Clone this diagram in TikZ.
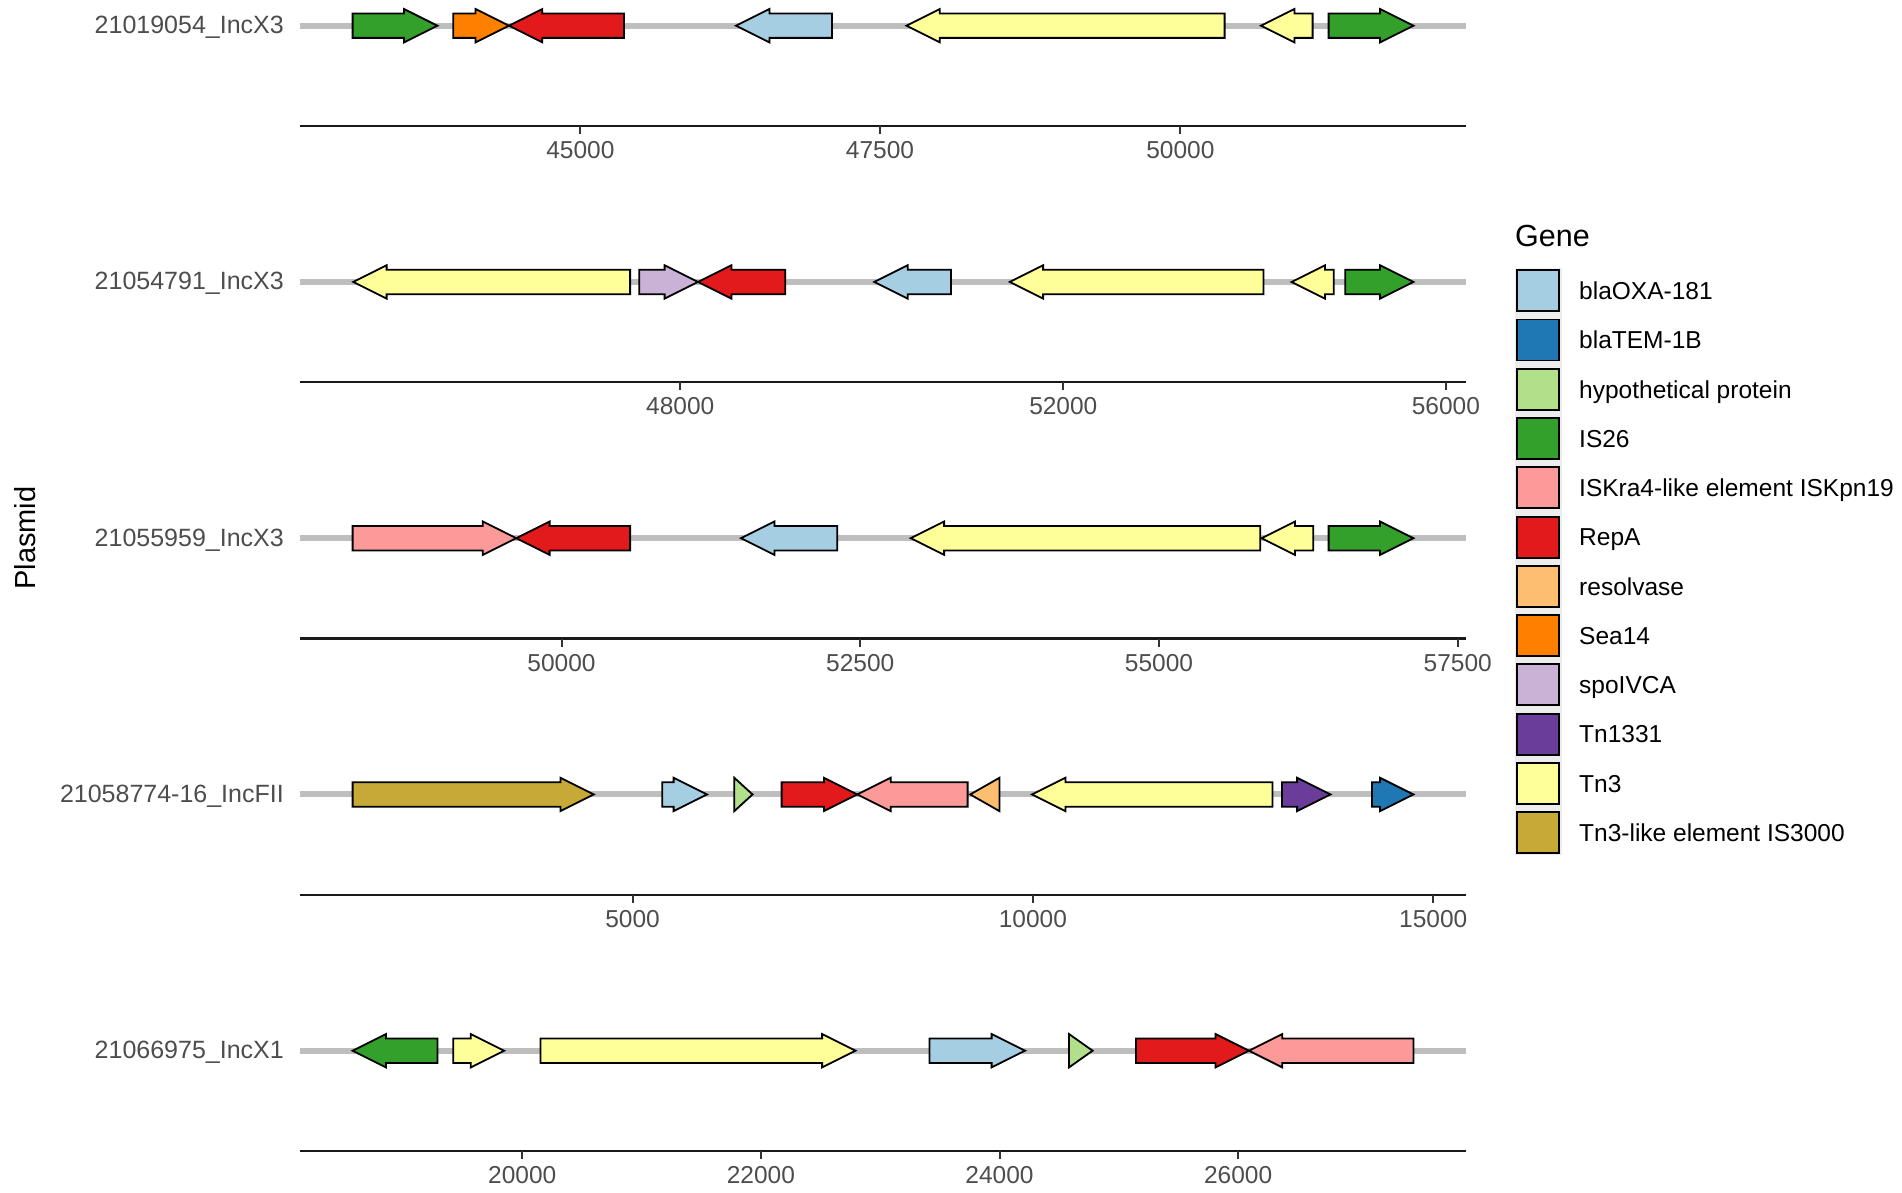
\documentclass[tikz,border=0pt]{standalone}
\usepackage{fontspec}
\setmainfont{Liberation Sans}
\definecolor{cOXA}{HTML}{A6CEE3}
\definecolor{cTEM}{HTML}{1F78B4}
\definecolor{cHyp}{HTML}{B2DF8A}
\definecolor{cIS}{HTML}{33A02C}
\definecolor{cISK}{HTML}{FB9A99}
\definecolor{cRep}{HTML}{E31A1C}
\definecolor{cRes}{HTML}{FDBF6F}
\definecolor{cSea}{HTML}{FF7F00}
\definecolor{cSpo}{HTML}{CAB2D6}
\definecolor{cTn1}{HTML}{6A3D9A}
\definecolor{cTn3}{HTML}{FFFF99}
\definecolor{cIS3}{HTML}{C7A937}
\definecolor{trackgrey}{HTML}{BEBEBE}
\definecolor{grey30}{HTML}{4D4D4D}
\definecolor{keybg}{HTML}{EDEDED}
\tikzset{
  genebox/.style={draw=black, line width=1.8pt, line join=miter},
  trackline/.style={draw=trackgrey, line width=6pt},
  axisline/.style={draw=black!90, line width=2.4pt},
  tickmark/.style={draw=black!80, line width=2pt},
  ticklab/.style={text=grey30, font=\fontsize{24.5}{28}\selectfont, inner sep=0pt, anchor=center},
  rowlab/.style={text=grey30, font=\fontsize{25}{29}\selectfont, inner sep=0pt, anchor=base east},
  legkey/.style={draw=black, line width=1.8pt},
  leglab/.style={text=black, font=\fontsize{24.5}{28}\selectfont, inner sep=0pt, anchor=base west},
}
\newcommand\gfwd[4]{% y, x1, x2(tip), colour
  \pgfmathsetmacro\ghx{max(#2,#3-33.4)}%
  \draw[genebox,fill=#4] (#2,#1-12.2) -- (\ghx,#1-12.2) -- (\ghx,#1-16.7) -- (#3,#1)
     -- (\ghx,#1+16.7) -- (\ghx,#1+12.2) -- (#2,#1+12.2) -- cycle;}
\newcommand\grev[4]{% y, x1(tip), x2, colour
  \pgfmathsetmacro\ghx{min(#3,#2+33.4)}%
  \draw[genebox,fill=#4] (#3,#1-12.2) -- (\ghx,#1-12.2) -- (\ghx,#1-16.7) -- (#2,#1)
     -- (\ghx,#1+16.7) -- (\ghx,#1+12.2) -- (#3,#1+12.2) -- cycle;}
\begin{document}
\begin{tikzpicture}[x=1pt,y=-1pt]
\useasboundingbox (0,0) rectangle (1902,1193);

% tracks and axes
\foreach \r/\lab in {0/21019054\_IncX3,1/21054791\_IncX3,2/21055959\_IncX3,3/21058774-16\_IncFII,4/21066975\_IncX1}{
  \pgfmathsetmacro\ty{25.7+256.25*\r}
  \pgfmathsetmacro\ay{126+256.25*\r}
  \coordinate (tl\r) at (300,\ty);
  \coordinate (tr\r) at (1466,\ty);
  \coordinate (al\r) at (300,\ay);
  \coordinate (ar\r) at (1466,\ay);
  \draw[trackline] (tl\r) -- (tr\r);
  \draw[axisline] (al\r) -- (ar\r);
  \node[rowlab] (row\r) at (284,\ty+7.8) {\lab};
}

% tick marks and labels
\foreach \r/\x/\t in {0/580.4/45000,0/880/47500,0/1180.4/50000,
  1/680.2/48000,1/1063.3/52000,1/1445.9/56000,
  2/561.5/50000,2/860.2/52500,2/1159/55000,2/1457.7/57500,
  3/632.5/5000,3/1032.9/10000,3/1433.2/15000,
  4/522.3/20000,4/760.9/22000,4/999.5/24000,4/1238.1/26000}{
  \pgfmathsetmacro\ay{126+256.25*\r}
  \coordinate (tk\r-\t) at (\x,\ay);
  \draw[tickmark] (tk\r-\t) -- ++(0,8);
  \node[ticklab] (tkl\r-\t) at (\x,\ay+24.3) {\t};
}

% row 1
\def\ty{25.7}
\gfwd{\ty}{352.6}{437.4}{cIS}
\gfwd{\ty}{453.2}{508.9}{cSea}
\grev{\ty}{508.9}{624}{cRep}
\grev{\ty}{736}{832}{cOXA}
\grev{\ty}{906.4}{1224.6}{cTn3}
\grev{\ty}{1261}{1312.6}{cTn3}
\gfwd{\ty}{1328.6}{1413.4}{cIS}

% row 2
\def\ty{281.95}
\grev{\ty}{353.2}{630.1}{cTn3}
\gfwd{\ty}{639.2}{698}{cSpo}
\grev{\ty}{698}{785.2}{cRep}
\grev{\ty}{874.3}{951}{cOXA}
\grev{\ty}{1009.7}{1263.5}{cTn3}
\grev{\ty}{1291.6}{1333.7}{cTn3}
\gfwd{\ty}{1345.2}{1413.4}{cIS}

% row 3
\def\ty{538.2}
\gfwd{\ty}{352.6}{516.2}{cISK}
\grev{\ty}{516.2}{630.1}{cRep}
\grev{\ty}{741}{837.3}{cOXA}
\grev{\ty}{910.7}{1260.3}{cTn3}
\grev{\ty}{1261.6}{1313.3}{cTn3}
\gfwd{\ty}{1328.6}{1413.4}{cIS}

% row 4
\def\ty{794.45}
\gfwd{\ty}{352.6}{593.8}{cIS3}
\gfwd{\ty}{662.2}{707}{cOXA}
\gfwd{\ty}{734.3}{752.5}{cHyp}
\gfwd{\ty}{781.6}{857.3}{cRep}
\grev{\ty}{857.3}{967.6}{cISK}
\grev{\ty}{970.2}{999.5}{cRes}
\grev{\ty}{1032}{1272.4}{cTn3}
\gfwd{\ty}{1282}{1330.5}{cTn1}
\gfwd{\ty}{1371.9}{1413.4}{cTEM}

% row 5
\def\ty{1050.7}
\grev{\ty}{352.6}{437.4}{cIS}
\gfwd{\ty}{453.2}{504.1}{cTn3}
\gfwd{\ty}{540.4}{855.5}{cTn3}
\gfwd{\ty}{929.4}{1025}{cOXA}
\gfwd{\ty}{1069}{1092.6}{cHyp}
\gfwd{\ty}{1136}{1248.9}{cRep}
\grev{\ty}{1248.9}{1413.4}{cISK}

% y axis title
\node[rotate=90, font=\fontsize{29}{33}\selectfont, inner sep=0pt] (ytitle) at (25,538) {Plasmid};

% legend
\node[font=\fontsize{30.5}{35}\selectfont, inner sep=0pt, anchor=base west] (legtitle) at (1515,246) {Gene};
\fill[keybg] (1514.5,268) rectangle (1561.5,854.5);
\foreach \lab/\col [count=\i from 0] in {blaOXA-181/cOXA, blaTEM-1B/cTEM, hypothetical protein/cHyp, IS26/cIS, ISKra4-like element ISKpn19/cISK, RepA/cRep, resolvase/cRes, Sea14/cSea, spoIVCA/cSpo, Tn1331/cTn1, Tn3/cTn3, Tn3-like element IS3000/cIS3}{
  \pgfmathsetmacro\ky{270.3+49.26*\i}
  \draw[legkey, fill=\col] (1516.7,\ky) rectangle (1559,\ky+41);
  \node[leglab] (leg\i) at (1579,\ky+20.5+8.8) {\lab};
}
\end{tikzpicture}
\end{document}
